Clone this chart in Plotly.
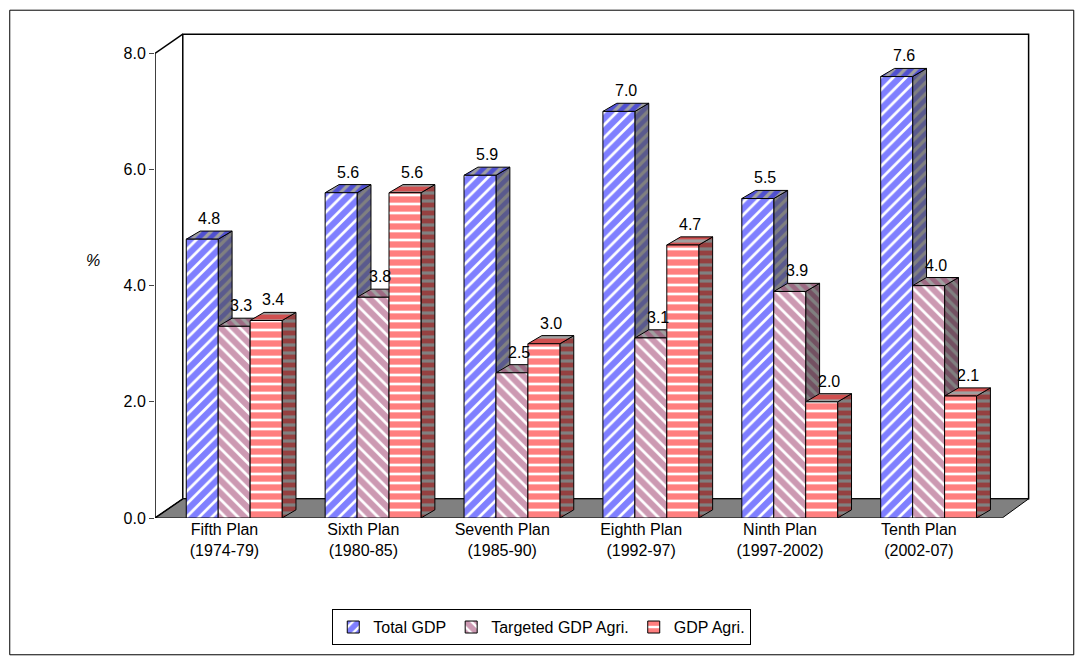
import plotly.graph_objects as go

categories = ["Fifth Plan<br>(1974-79)", "Sixth Plan<br>(1980-85)", "Seventh Plan<br>(1985-90)",
              "Eighth Plan<br>(1992-97)", "Ninth Plan<br>(1997-2002)", "Tenth Plan<br>(2002-07)"]
series_names = ["Total GDP", "Targeted GDP Agri.", "GDP Agri."]
total_gdp = [4.8, 5.6, 5.9, 7.0, 5.5, 7.6]
targeted_agri = [3.3, 3.8, 2.5, 3.1, 3.9, 4.0]
gdp_agri = [3.4, 5.6, 3.0, 4.7, 2.0, 2.1]
values = [total_gdp, targeted_agri, gdp_agri]

fg = ["#0000FF", "#993366", "#FF0000"]
side = ["#333399", "#662244", "#AA0000"]
top = ["#9999DD", "#CC99AA", "#FF6666"]
shapes_p = ["/", "\\", "-"]

W = 0.23
DX, DY = 0.1, 0.14
offsets = [-0.275, -0.045, 0.185]
fig = go.Figure()

fig.add_trace(go.Scatter(x=[-0.3, 5.79, 5.79, -0.3, -0.3], y=[0.33, 0.33, 8.33, 8.33, 0.33],
                         fill="toself", fillcolor="white", mode="lines", line=dict(color="black", width=1.5),
                         showlegend=False, hoverinfo="skip"))
fig.add_trace(go.Scatter(x=[-0.5, 5.6, 5.79, -0.3, -0.5], y=[0, 0, 0.33, 0.33, 0],
                         fill="toself", fillcolor="#808080", mode="lines", line=dict(color="black", width=1),
                         showlegend=False, hoverinfo="skip"))
for yy in [0, 8]:
    fig.add_trace(go.Scatter(x=[-0.5, -0.3], y=[yy, yy + 0.33], mode="lines",
                             line=dict(color="black", width=1.5), showlegend=False, hoverinfo="skip"))

ann = []
for g in range(len(categories)):
    for s in range(3):
        v = values[s][g]
        x0 = g + offsets[s]
        x1 = x0 + W
        fig.add_trace(go.Scatter(x=[x1, x1 + DX, x1 + DX, x1, x1], y=[0, DY, v + DY, v, 0],
                                 fill="toself", fillcolor=side[s], mode="lines",
                                 fillpattern=dict(shape=shapes_p[s], fgcolor=side[s], bgcolor="#808080", solidity=0.6, size=8),
                                 line=dict(color="black", width=1), showlegend=False, hoverinfo="skip"))
        fig.add_trace(go.Scatter(x=[x0, x1, x1 + DX, x0 + DX, x0], y=[v, v, v + DY, v + DY, v],
                                 fill="toself", fillcolor=top[s], mode="lines",
                                 fillpattern=dict(shape=shapes_p[s], fgcolor=fg[s], bgcolor="#A0A0A0", solidity=0.6, size=8),
                                 line=dict(color="black", width=1), showlegend=False, hoverinfo="skip"))
        fig.add_trace(go.Scatter(x=[x0, x1, x1, x0, x0], y=[0, 0, v, v, 0],
                                 fill="toself", fillcolor="white", mode="lines",
                                 fillpattern=dict(shape=shapes_p[s], fgcolor=fg[s], bgcolor="white", solidity=0.7, size=9),
                                 line=dict(color="black", width=1), showlegend=False, hoverinfo="skip"))
        ann.append(dict(x=(x0 + x1 + DX) / 2, y=v + DY, text=f"{v:.1f}", showarrow=False,
                        yanchor="bottom", yshift=2, font=dict(size=16, color="black")))

for s in range(3):
    fig.add_trace(go.Bar(x=[None], y=[None], name=series_names[s],
                         marker=dict(color="white", line=dict(color="black", width=1),
                                     pattern=dict(shape=shapes_p[s], fgcolor=fg[s], bgcolor="white", solidity=0.7))))

ann.append(dict(x=-0.081, y=0.53, xref="paper", yref="paper", text="<i>%</i>", showarrow=False,
                font=dict(size=16, color="black")))

fig.update_layout(
    width=1084, height=665, margin=dict(l=147, r=62, t=25, b=155),
    paper_bgcolor="white", plot_bgcolor="white",
    font=dict(family="Liberation Sans, Arial", color="black"),
    xaxis=dict(range=[-0.5, 5.8], tickvals=list(range(6)), ticktext=categories, showgrid=False,
               zeroline=False, showline=False, tickfont=dict(size=16)),
    yaxis=dict(range=[0, 8.35], tickvals=[0, 2, 4, 6, 8], ticktext=["0.0", "2.0", "4.0", "6.0", "8.0"],
               showgrid=False, zeroline=False, showline=False, ticks="outside", ticklen=5,
               tickfont=dict(size=16)),
    legend=dict(orientation="h", x=0.442, xanchor="center", y=-0.225, yanchor="middle",
                bordercolor="black", borderwidth=1, font=dict(size=16), itemwidth=30),
    annotations=ann,
    shapes=[dict(type="rect", xref="paper", yref="paper", x0=-0.166, x1=1.05, y0=-0.282, y1=1.047,
                 line=dict(color="black", width=1)),
            dict(type="line", xref="x", yref="y", x0=-0.5, x1=-0.5, y0=0, y1=8, line=dict(color="black", width=1.5))],
)
fig.write_html("out.html")
